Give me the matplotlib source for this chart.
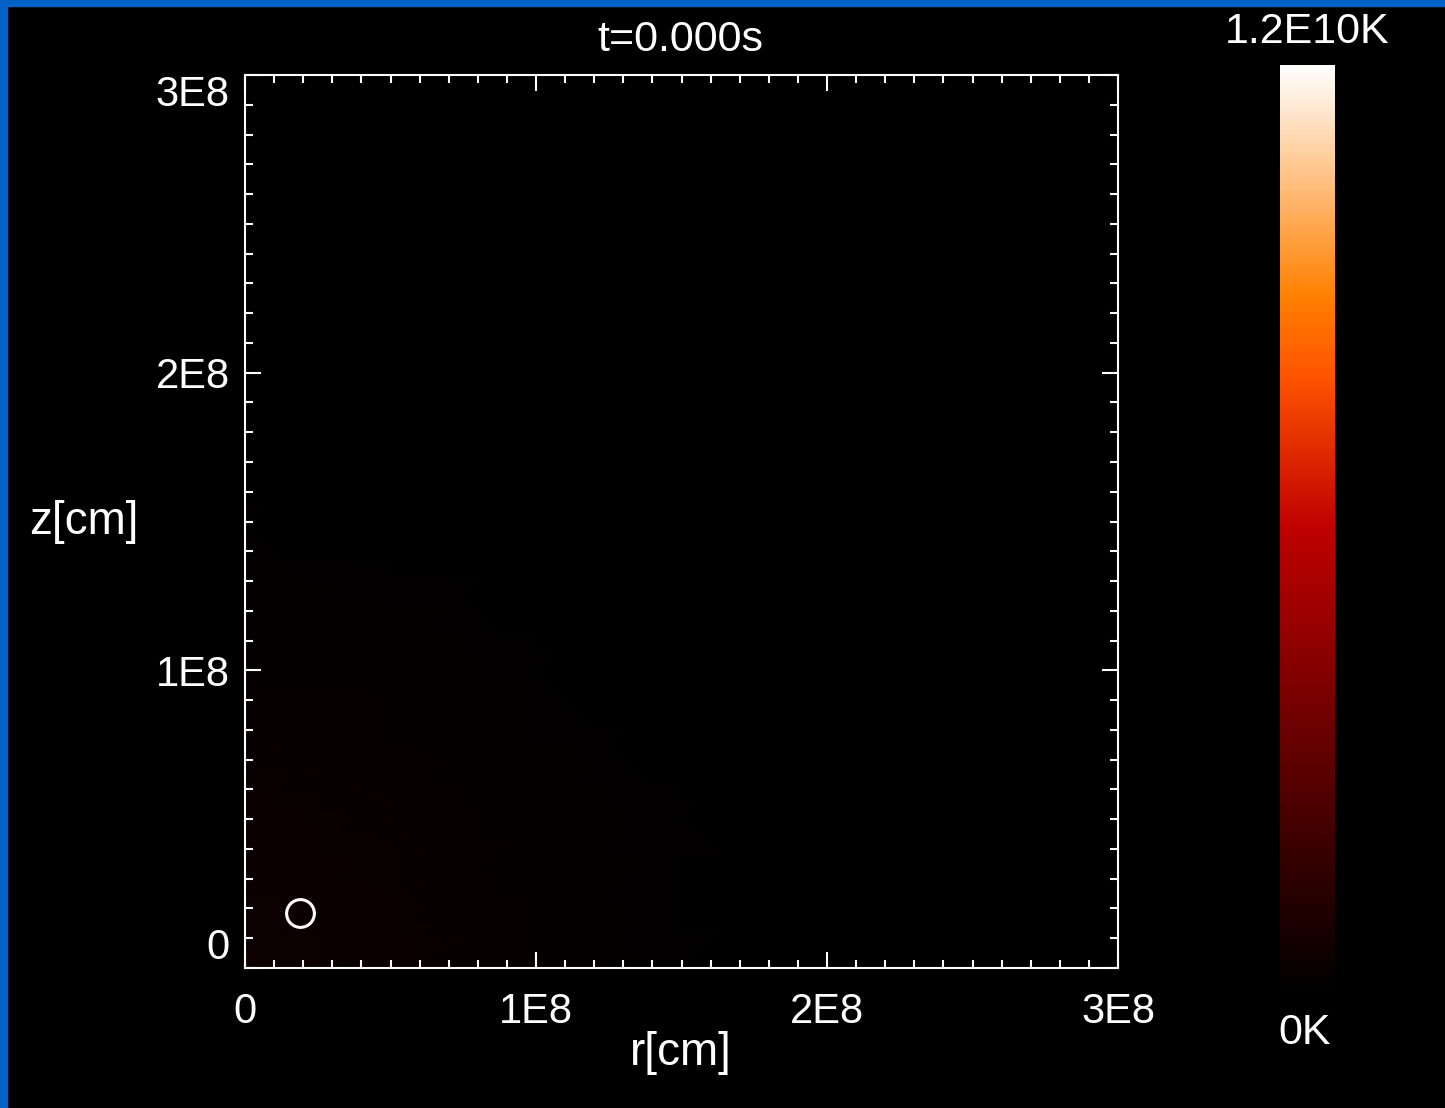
import numpy as np
import matplotlib
matplotlib.use("Agg")
import matplotlib.pyplot as plt
from matplotlib.patches import Rectangle

plt.rcParams["font.family"] = ["Liberation Sans", "DejaVu Sans"]

# temperature field (very faint at t=0), nodes in cm, values in K
rNodes = np.array([0.0, 0.5e8, 1.0e8, 1.5e8, 2.0e8, 3.0e8])
zNodes = np.array([0.0, 0.5e8, 1.0e8, 1.5e8, 2.0e8, 3.0e8])
tempField = np.array([
    [4.5e8, 3.5e8, 2.0e8, 0.8e8, 0.0, 0.0],
    [3.5e8, 2.8e8, 1.5e8, 0.5e8, 0.0, 0.0],
    [2.0e8, 1.5e8, 0.8e8, 0.2e8, 0.0, 0.0],
    [0.6e8, 0.4e8, 0.2e8, 0.0, 0.0, 0.0],
    [0.0, 0.0, 0.0, 0.0, 0.0, 0.0],
    [0.0, 0.0, 0.0, 0.0, 0.0, 0.0],
])
tMin = 0.0
tMax = 1.2e10

# marker (circle) position in cm
circleR = [1.9e7]
circleZ = [1.85e7]

xTicks = [0, 1e8, 2e8, 3e8]
xTickLabels = ["0", "1E8", "2E8", "3E8"]
yTicks = [0, 1e8, 2e8, 3e8]
yTickLabels = ["0", "1E8", "2E8", "3E8"]

W, H = 1445, 1108
fig = plt.figure(figsize=(W / 100, H / 100), dpi=100, facecolor="black")

# blue slide border (left and top)
fig.patches.append(Rectangle((0, 0), 7 / W, 1, transform=fig.transFigure, color="#0062C4", zorder=0))
fig.patches.append(Rectangle((0, 1 - 6 / H), 1, 6 / H, transform=fig.transFigure, color="#0062C4", zorder=0))

ax = fig.add_axes([245 / W, 1 - 968 / H, 873 / W, 893 / H])
ax.set_facecolor("black")
mesh = ax.pcolormesh(rNodes, zNodes, tempField, shading="gouraud", cmap="gist_heat", vmin=tMin, vmax=tMax)
ax.plot(circleR, circleZ, "o", ms=20, mfc="none", mec="white", mew=2.2)
ax.set_xlim(0, 3e8)
ax.set_ylim(0, 3e8)

ax.set_xticks(xTicks)
ax.set_xticklabels(xTickLabels)
ax.set_yticks(yTicks)
ax.set_yticklabels(yTickLabels)
ax.set_xticks(np.linspace(0, 3e8, 31), minor=True)
ax.set_yticks(np.linspace(0, 3e8, 31), minor=True)
ax.tick_params(which="both", direction="in", colors="white", width=1.5,
               top=True, right=True, labelsize=30)
ax.tick_params(which="major", length=11.5)
ax.tick_params(which="minor", length=5.8)
ax.tick_params(axis="x", pad=17)
ax.tick_params(axis="y", pad=11)
for s in ax.spines.values():
    s.set_color("white")
    s.set_linewidth(1.5)
yl = ax.get_yticklabels()
yl[0].set_va("bottom")
yl[-1].set_va("top")

fig.text(680 / W, 1 - 40 / H, "t=0.000s", color="white", fontsize=31, ha="center", va="center")
fig.text(681 / W, 1 - 1053 / H, "r[cm]", color="white", fontsize=33, ha="center", va="center")
fig.text(84 / W, 1 - 522 / H, "z[cm]", color="white", fontsize=33, ha="center", va="center")

cax = fig.add_axes([1280 / W, 1 - 990 / H, 55 / W, 925 / H])
cb = fig.colorbar(mesh, cax=cax)
cb.set_ticks([])
cb.outline.set_visible(False)
fig.text(1307 / W, 1 - 32 / H, "1.2E10K", color="white", fontsize=31, ha="center", va="center")
fig.text(1305 / W, 1 - 1033 / H, "0K", color="white", fontsize=31, ha="center", va="center")

fig.savefig("out.png", dpi=100, facecolor="black")
